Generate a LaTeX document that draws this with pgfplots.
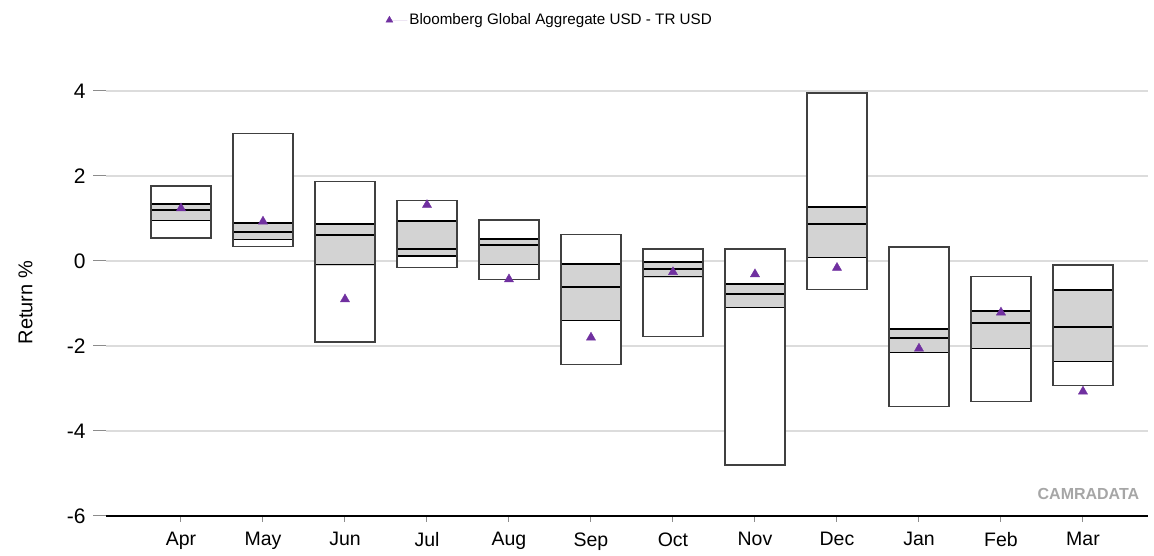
\documentclass[border=0pt]{standalone}
\usepackage{fontspec}
\setmainfont{Liberation Sans}
\usepackage{pgfplots}
\usepackage{pgfplotstable}
\pgfplotsset{compat=1.18}
\usepgfplotslibrary{statistics}

\definecolor{boxedge}{HTML}{404040}
\definecolor{band}{HTML}{D3D3D3}
\definecolor{gridgrey}{HTML}{DCDCDC}
\definecolor{tickgrey}{HTML}{8C8C8C}
\definecolor{bmpurple}{HTML}{7030A0}
\definecolor{wmark}{HTML}{A6A6A6}

% index return per month (triangles)
\pgfplotstableread{
m  bm
0   1.24
1   0.93
2  -0.90
3   1.32
4  -0.43
5  -1.80
6  -0.26
7  -0.31
8  -0.16
9  -2.06
10 -1.21
11 -3.07
}\bench

% one floating box: white min-max range, grey band q1-q3, thick median and q3
\pgfplotsset{
  rangebox/.style={
    forget plot,
    boxplot/draw direction=y,
    boxplot/box extend=0.731,
    boxplot/draw/box/.code={%
      \fill[white] (boxplot box cs:\pgfplotsboxplotvalue{lower whisker},0) rectangle (boxplot box cs:\pgfplotsboxplotvalue{upper whisker},1);
      \fill[band] (boxplot box cs:\pgfplotsboxplotvalue{lower quartile},0) rectangle (boxplot box cs:\pgfplotsboxplotvalue{upper quartile},1);
      \draw[black, line width=1.3pt] (boxplot box cs:\pgfplotsboxplotvalue{lower quartile},0) -- (boxplot box cs:\pgfplotsboxplotvalue{lower quartile},1);
      \draw[black, line width=2pt] (boxplot box cs:\pgfplotsboxplotvalue{median},0) -- (boxplot box cs:\pgfplotsboxplotvalue{median},1);
      \draw[black, line width=2pt] (boxplot box cs:\pgfplotsboxplotvalue{upper quartile},0) -- (boxplot box cs:\pgfplotsboxplotvalue{upper quartile},1);
      \draw[boxedge, line width=1.4pt] (boxplot box cs:\pgfplotsboxplotvalue{lower whisker},0) rectangle (boxplot box cs:\pgfplotsboxplotvalue{upper whisker},1);
    },
    boxplot/draw/median/.code={},
    boxplot/draw/lower whisker/.code={},
    boxplot/draw/upper whisker/.code={},
  },
}

\begin{document}
\begin{tikzpicture}
\path[use as bounding box] (0,0) rectangle (1154pt,556pt);
\begin{axis}[
  at={(106pt,40pt)}, anchor=south west,
  scale only axis, width=1042pt, height=446.25pt,
  xmin=-0.9146, xmax=11.793,
  ymin=-6, ymax=4.5,
  xtick={0,...,11},
  xticklabels={Apr,May,Jun,Jul,Aug,Sep,Oct,Nov,Dec,Jan,Feb,Mar},
  ytick={-6,-4,-2,0,2,4},
  /pgf/number format/assume math mode=true,
  axis x line*=bottom, axis y line*=left,
  x axis line style={black, line width=2.4pt, -},
  y axis line style={draw=none},
  tick align=outside,
  major tick length=13pt,
  xtick style={tickgrey, line width=1pt, /pgfplots/major tick length=6pt},
  ytick style={tickgrey, line width=1pt},
  ymajorgrids, grid style={gridgrey, line width=1.8pt},
  yticklabel style={font=\fontsize{21}{24}\selectfont, xshift=-4pt},
  xticklabel style={font=\fontsize{19.5}{22}\selectfont},
  ylabel={Return \%},
  every axis y label/.style={at={(axis description cs:-0.0773,0.478)}, rotate=90,
    anchor=center, font=\fontsize{20}{24}\selectfont},
  legend style={at={(0.426,1.111)}, anchor=center, draw=none, fill=none,
    font=\fontsize{15.2}{18}\selectfont},
  legend image code/.code={\path[draw=none] (0pt,0pt) -- (18pt,0pt);
    \draw[#1, mark size=4pt] plot coordinates {(0pt,0pt)};},
  clip=false,
]
% monthly peer ranges: whiskers = min/max, quartiles = grey band
\addplot[rangebox, boxplot prepared={draw position=0,  lower whisker=0.54,  lower quartile=0.95,  median=1.20,  upper quartile=1.33,  upper whisker=1.76}] coordinates {};
\addplot[rangebox, boxplot prepared={draw position=1,  lower whisker=0.34,  lower quartile=0.51,  median=0.68,  upper quartile=0.89,  upper whisker=3.00}] coordinates {};
\addplot[rangebox, boxplot prepared={draw position=2,  lower whisker=-1.91, lower quartile=-0.09, median=0.61,  upper quartile=0.87,  upper whisker=1.87}] coordinates {};
\addplot[rangebox, boxplot prepared={draw position=3,  lower whisker=-0.16, lower quartile=0.12,  median=0.28,  upper quartile=0.93,  upper whisker=1.43}] coordinates {};
\addplot[rangebox, boxplot prepared={draw position=4,  lower whisker=-0.44, lower quartile=-0.08, median=0.37,  upper quartile=0.51,  upper whisker=0.96}] coordinates {};
\addplot[rangebox, boxplot prepared={draw position=5,  lower whisker=-2.43, lower quartile=-1.40, median=-0.61, upper quartile=-0.06, upper whisker=0.62}] coordinates {};
\addplot[rangebox, boxplot prepared={draw position=6,  lower whisker=-1.78, lower quartile=-0.37, median=-0.18, upper quartile=-0.02, upper whisker=0.28}] coordinates {};
\addplot[rangebox, boxplot prepared={draw position=7,  lower whisker=-4.80, lower quartile=-1.09, median=-0.77, upper quartile=-0.54, upper whisker=0.28}] coordinates {};
\addplot[rangebox, boxplot prepared={draw position=8,  lower whisker=-0.67, lower quartile=0.09,  median=0.88,  upper quartile=1.27,  upper whisker=3.95}] coordinates {};
\addplot[rangebox, boxplot prepared={draw position=9,  lower whisker=-3.43, lower quartile=-2.15, median=-1.82, upper quartile=-1.60, upper whisker=0.33}] coordinates {};
\addplot[rangebox, boxplot prepared={draw position=10, lower whisker=-3.31, lower quartile=-2.06, median=-1.47, upper quartile=-1.17, upper whisker=-0.37}] coordinates {};
\addplot[rangebox, boxplot prepared={draw position=11, lower whisker=-2.93, lower quartile=-2.36, median=-1.55, upper quartile=-0.69, upper whisker=-0.09}] coordinates {};

\addplot[only marks, mark=triangle*, mark size=5.3pt, draw=bmpurple, fill=bmpurple] table[x=m, y=bm] {\bench};
\addlegendentry{Bloomberg Global Aggregate USD - TR USD}

\node[anchor=east, text=wmark, font=\fontsize{16}{19}\selectfont\bfseries]
  at (rel axis cs:0.995,0.049) {CAMRADATA};
\end{axis}
\end{tikzpicture}
\end{document}
